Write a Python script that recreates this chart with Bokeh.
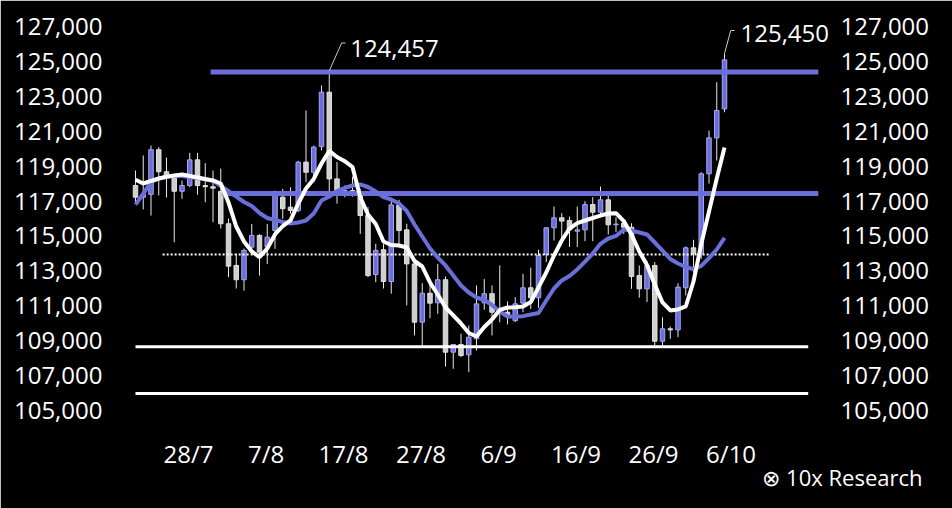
from bokeh.plotting import figure
from bokeh.models import Range1d, LinearAxis, FixedTicker, NumeralTickFormatter, Label, ColumnDataSource, Title
from bokeh.embed import file_html
from bokeh.resources import INLINE

# ---------------- data ----------------
day = list(range(77))
opens = [117890, 117220, 117380, 119940, 118680, 118460, 117560, 117890, 119360, 117890,
         117820, 117550, 115700, 113310, 112490, 114360, 115030, 114360, 115310, 117220,
         116650, 116460, 119230, 118650, 120120, 123240, 118270, 117510, 117600, 117510,
         116170, 112790, 114210, 112390, 116780, 115350, 113400, 110060, 111720, 111170,
         112490, 108340, 108780, 108190, 109110, 111170, 111690, 110700, 110630, 110150,
         111150, 112030, 111460, 113940, 115470, 116040, 115890, 115270, 115350, 116800,
         116360, 117070, 115640, 115730, 115500, 112730, 111970, 113310, 108970, 109680,
         109620, 112030, 114320, 113980, 118560, 120620, 122280]
highs = [118750, 119610, 120180, 120090, 119490, 118550, 118170, 119760, 119760, 119170,
         118750, 118860, 116000, 113990, 114280, 115690, 115100, 115690, 117600, 117700,
         117790, 119300, 122190, 120180, 123620, 124457, 119230, 117890, 118400, 117700,
         116650, 114550, 114550, 117070, 117070, 115700, 113600, 112290, 112350, 113400,
         112680, 108800, 109400, 109870, 112160, 112540, 112160, 113310, 111250, 111490,
         112830, 113180, 114210, 115500, 116690, 116310, 116110, 116690, 116990, 117220,
         117830, 117320, 116070, 115890, 115730, 113310, 113560, 113500, 110340, 109810,
         112290, 114400, 114780, 118650, 121040, 123810, 125450]
lows = [116930, 116520, 116170, 117320, 117200, 114640, 117130, 117790, 117360, 116930,
        115790, 115430, 112640, 111990, 111870, 113970, 112730, 113400, 114260, 115980,
        116270, 116360, 118080, 118080, 119900, 117420, 116850, 117220, 117250, 115120,
        112640, 112350, 111990, 111690, 114450, 111020, 109300, 108720, 110280, 110540,
        107520, 107390, 108060, 107200, 108440, 110770, 109300, 110060, 109930, 110060,
        110630, 110820, 110880, 113500, 114740, 114640, 114370, 114370, 114700, 114700,
        116070, 115080, 115220, 115120, 111970, 111460, 111210, 108720, 108720, 109110,
        109200, 111590, 112920, 113700, 118000, 119320, 122090]
closes = [117220, 117380, 119940, 118680, 118460, 117560, 117890, 119360, 117890, 117820,
          117740, 115700, 113270, 112490, 114170, 115030, 114070, 114930, 117320, 116560,
          116460, 119230, 118650, 120090, 123240, 118270, 117510, 117600, 117510, 116170,
          112730, 114170, 112390, 116780, 115310, 113400, 110060, 111720, 111150, 112490,
          108340, 108780, 108150, 109200, 111110, 111690, 110630, 110630, 110500, 111110,
          112030, 111460, 113880, 115470, 116040, 115850, 115350, 115350, 116800, 116360,
          117070, 115640, 115680, 115500, 112680, 111970, 113310, 108970, 109680, 109620,
          112070, 114320, 113980, 118560, 120620, 122190, 125090]
ma_short = [118220, 118005, 118150, 118290, 118395, 118460, 118520, 118435, 118350, 118265,
            118180, 118005, 116920, 115540, 114680, 114110, 113785, 114280, 115085, 115570,
            115890, 116860, 117720, 118265, 119150, 119870, 119525, 119285, 118950, 117220,
            116230, 115685, 114685, 114480, 114455, 114340, 113565, 113250, 112335, 111645,
            110900, 110445, 109985, 109440, 109240, 109785, 110215, 110760, 110900, 110920,
            110960, 111215, 112050, 112905, 113880, 114740, 115425, 115740, 115885, 116030,
            116170, 116285, 116305, 115855, 115085, 114110, 113335, 112220, 111190, 110730,
            110790, 110960, 112390, 114540, 116400, 118290, 120070]
ma_long = [116800, 117430, 118090, 118290, 118380, 118450, 118435, 118370, 118320, 118235,
           118165, 117860, 117575, 117260, 116945, 116715, 116315, 116030, 115915, 115800,
           115715, 115770, 115885, 116285, 117030, 117260, 117575, 117750, 117890, 117950,
           117805, 117545, 117230, 117090, 116860, 116430, 115655, 114970, 114280, 113765,
           113310, 112735, 112160, 111760, 111475, 111330, 111045, 110670, 110385, 110385,
           110405, 110500, 110585, 111300, 111990, 112450, 112705, 113080, 113535, 113995,
           114550, 114855, 115000, 115370, 115315, 115200, 115085, 114625, 114165, 113680,
           113420, 113220, 113095, 113280, 113735, 114225, 114895]

y_ticks = list(range(105000, 127001, 2000))
x_tick_pos = [6.85, 16.85, 26.85, 36.85, 46.85, 56.85, 66.85, 76.85]
x_tick_labels = ["28/7", "7/8", "17/8", "27/8", "6/9", "16/9", "26/9", "6/10"]

# horizontal levels
blue_levels = [124400, 117430]
blue_level_start = [9.7, 11.2]
white_levels = [108650, 105980]
dotted_level = 113940

ann_day = [25, 76]
ann_val = [124457, 125450]
ann_text = ["124,457", "125,450"]

# ---------------- styling ----------------
BLUE = "#6b6fd9"
GRAY = "#cfcfcf"
FONT = "Open Sans"

p = figure(width=952, height=508, output_backend="svg", toolbar_location=None,
           x_range=Range1d(-0.645, 90.45), y_range=Range1d(104427, 127573),
           min_border_left=130, min_border_right=116, min_border_top=16, min_border_bottom=88,
           background_fill_color="black", border_fill_color="black",
           outline_line_color="black", outline_line_width=3)
p.grid.visible = False

def style_axis(ax, standoff):
    ax.axis_line_color = None
    ax.major_tick_line_color = None
    ax.minor_tick_line_color = None
    ax.major_tick_out = 0
    ax.major_tick_in = 0
    ax.minor_tick_out = 0
    ax.major_label_text_color = "white"
    ax.major_label_text_font = FONT
    ax.major_label_text_font_size = "24px"
    ax.major_label_standoff = standoff

yl = p.yaxis[0]
yl.ticker = FixedTicker(ticks=y_ticks)
yl.formatter = NumeralTickFormatter(format="0,0")
style_axis(yl, 28)

yr = LinearAxis(ticker=FixedTicker(ticks=y_ticks), formatter=NumeralTickFormatter(format="0,0"))
style_axis(yr, 4)
p.add_layout(yr, "right")

xa = p.xaxis[0]
xa.ticker = FixedTicker(ticks=x_tick_pos)
xa.major_label_overrides = {pos: lab for pos, lab in zip(x_tick_pos, x_tick_labels)}
style_axis(xa, 16)

# logo (title placed below the axis, right side)
logo = Title(text="\u2297 10x Research", align="right", offset=-86,
             text_color="white", text_font=FONT, text_font_size="22px", text_font_style="normal",
             standoff=-25)
p.add_layout(logo, "below")

# candles
tops = [max(o, c) for o, c in zip(opens, closes)]
bots = [min(o, c) for o, c in zip(opens, closes)]
up = [c > o for o, c in zip(opens, closes)]
src = ColumnDataSource(dict(day=day, high=highs, low=lows, top=tops, bottom=bots,
                            fill=[BLUE if u else GRAY for u in up],
                            edge=["#a3a6f0" if u else "#e0e0e0" for u in up]))
p.segment(x0="day", y0="low", x1="day", y1="high", source=src, line_color="#e8e8e8", line_width=1)
p.vbar(x="day", top="top", bottom="bottom", width=0.58, source=src,
       fill_color="fill", line_color="edge", line_width=1)

# levels
for v, s in zip(blue_levels, blue_level_start):
    p.line([s, 88.1], [v, v], line_color=BLUE, line_width=5)
for v in white_levels:
    p.line([0, 86.8], [v, v], line_color="white", line_width=3)
p.line([3.5, 81.7], [dotted_level, dotted_level], line_color="white", line_width=2, line_dash="2 2")

# moving averages
p.line(day, ma_long, line_color=BLUE, line_width=4)
p.line(day, ma_short, line_color="white", line_width=4)

# annotations (callouts)
lead_dx = [1.6, 0.8]
lead_dy = [1600, 1320]
text_dx = [2.7, 2.06]
text_dy = [1280, 1150]
for d, v, t, ldx, ldy, tdx, tdy in zip(ann_day, ann_val, ann_text, lead_dx, lead_dy, text_dx, text_dy):
    p.line([d, d + ldx, d + ldx + 0.5], [v, v + ldy, v + ldy], line_color="#cccccc", line_width=1)
    p.add_layout(Label(x=d + tdx, y=v + tdy, text=t, text_color="white", text_font=FONT,
                       text_font_size="24px", text_baseline="middle", text_align="left"))

open("out.html", "w").write(file_html(p, INLINE))
